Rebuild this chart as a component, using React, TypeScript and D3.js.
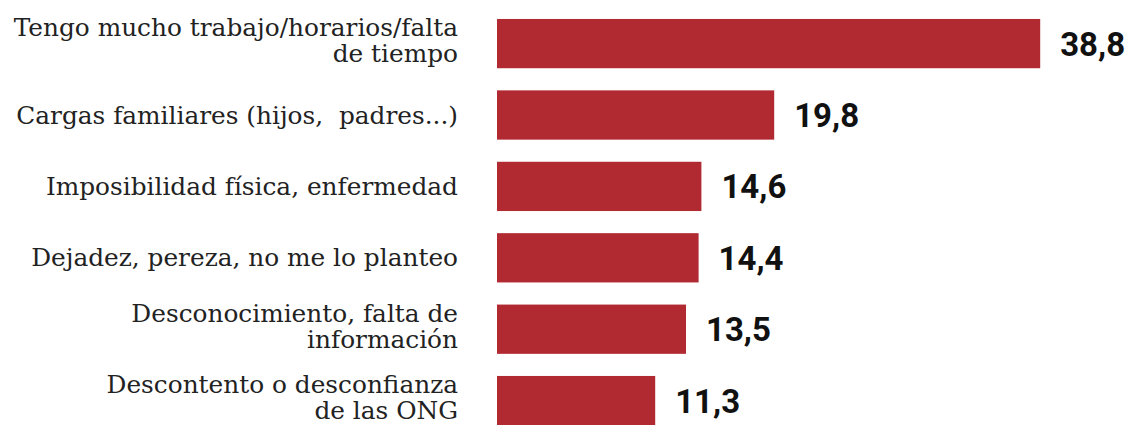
import React from "react";
import * as d3 from "d3";

const categories: string[][] = [
  ["Tengo mucho trabajo/horarios/falta", "de tiempo"],
  ["Cargas familiares (hijos,  padres...)"],
  ["Imposibilidad física, enfermedad"],
  ["Dejadez, pereza, no me lo planteo"],
  ["Desconocimiento, falta de", "información"],
  ["Descontento o desconfianza", "de las ONG"],
];
const values: number[] = [38.8, 19.8, 14.6, 14.4, 13.5, 11.3];
const valueLabels: string[] = ["38,8", "19,8", "14,6", "14,4", "13,5", "11,3"];

const W = 1127;
const H = 425;

export default function App() {
  const keys = categories.map((c, i) => String(i));
  const y = d3.scaleBand<string>().domain(keys).range([7.9, 436.3]).paddingInner(0.31).paddingOuter(0.155);
  const x = d3.scaleLinear().domain([0, 40]).range([497, 1057]);
  const lineH = 26;
  return (
    <svg width={W} height={H} style={{ position: "absolute", left: 0, top: 0, background: "#fff" }}>
      {keys.map((k, i) => {
        const y0 = y(k)!;
        const bw = y.bandwidth();
        const cy = y0 + bw / 2;
        const lines = categories[i];
        const firstBaseline = lines.length > 1 ? cy - ((lines.length - 1) * lineH) / 2 + 5.5 : cy + 8.5;
        return (
          <g key={k}>
            <rect x={x(0)} y={y0} width={x(values[i]) - x(0)} height={bw} fill="#b12a32" />
            <text
              x={x(values[i]) + 20}
              y={cy + 12}
              fontFamily="Roboto, sans-serif"
              fontWeight={700}
              fontSize={33}
              fill="#111"
            >
              {valueLabels[i]}
            </text>
            <text
              textAnchor="end"
              fontFamily="'DejaVu Serif', serif"
              fontSize={24.8}
              fill="#222"
              style={{ whiteSpace: "pre" }}
            >
              {lines.map((l, j) => (
                <tspan key={j} x={458} y={firstBaseline + j * lineH}>
                  {l}
                </tspan>
              ))}
            </text>
          </g>
        );
      })}
    </svg>
  );
}
